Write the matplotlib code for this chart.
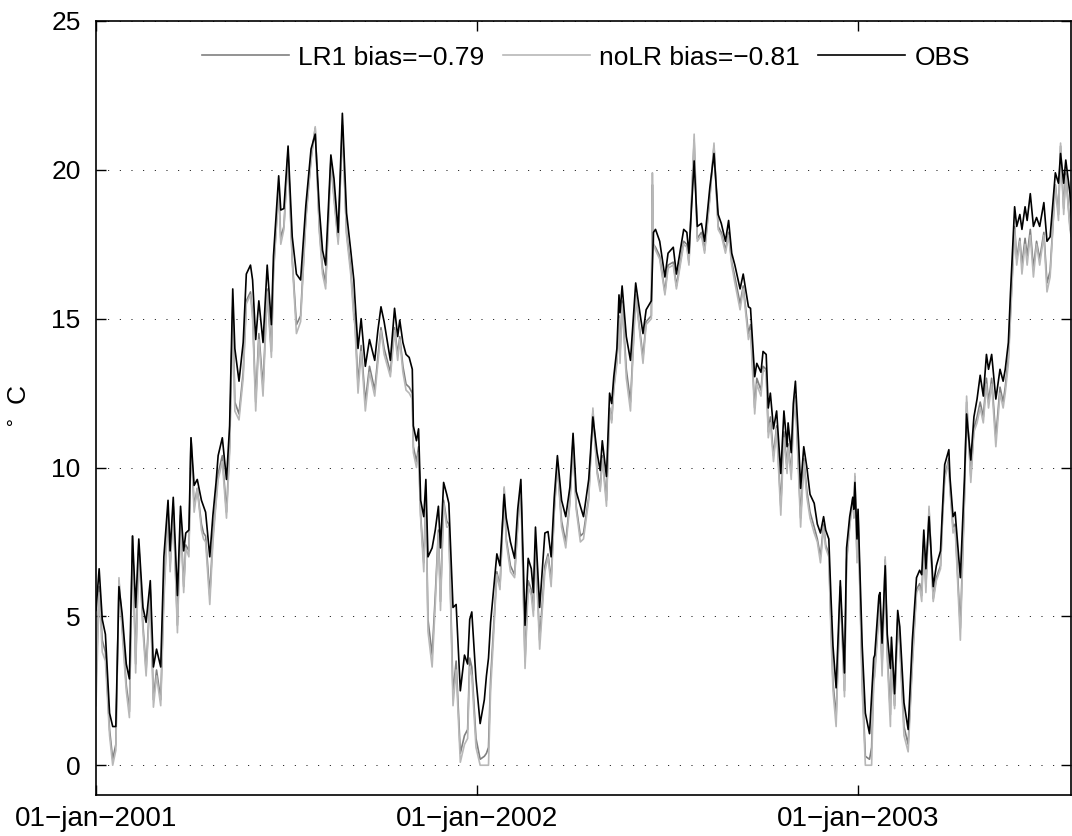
import numpy as np
import matplotlib
matplotlib.use("Agg")
import matplotlib.pyplot as plt

# days since 01-jan-2001 at which the curves were read
days = [0, 3, 6, 9, 13, 16, 19, 22, 25, 29,
        32, 35, 38, 41, 45, 48, 52, 55, 58, 62,
        65, 69, 71, 74, 78, 81, 84, 86, 89, 91,
        94, 97, 101, 103, 105, 109, 112, 115, 117, 121,
        125, 128, 131, 133, 137, 141, 144, 148, 150, 153,
        156, 160, 164, 168, 170, 175, 177, 180, 184, 188,
        192, 196, 201, 206, 210, 214, 217, 220, 225, 228,
        232, 236, 240, 244, 247, 248, 251, 254, 258, 262,
        267, 270, 273, 276, 282, 286, 289, 291, 294, 297,
        300, 303, 304, 307, 309, 311, 314, 316, 318, 322,
        325, 328, 330, 333, 336, 338, 342, 345, 349, 353,
        356, 358, 360, 364, 368, 372, 374, 376, 378, 384,
        387, 391, 393, 397, 401, 404, 407, 411, 414, 417,
        419, 421, 425, 430, 433, 436, 439, 442, 446, 450,
        454, 457, 460, 464, 467, 472, 476, 480, 483, 485,
        489, 492, 494, 496, 499, 501, 502, 504, 508, 512,
        517, 521, 524, 527, 532, 533, 534, 536, 540, 545,
        548, 553, 556, 563, 566, 568, 573, 576, 580, 583,
        588, 592, 596, 599, 603, 606, 609, 612, 617, 620,
        625, 627, 631, 633, 637, 639, 642, 644, 646, 649,
        652, 656, 659, 662, 663, 666, 668, 670, 673, 675,
        678, 681, 684, 688, 691, 694, 697, 699, 702, 704,
        706, 709, 713, 717, 719, 722, 725, 726, 727, 729,
        730, 734, 737, 741, 743, 745, 746, 750, 751, 753,
        756, 758, 761, 762, 765, 768, 770, 774, 778, 782,
        786, 789, 791, 793, 795, 798, 802, 805, 809, 811,
        813, 817, 818, 821, 823, 828, 832, 834, 838, 841,
        844, 847, 850, 853, 855, 858, 862, 866, 869, 871,
        874, 876, 880, 882, 885, 887, 890, 892, 895, 898,
        901, 904, 908, 911, 914, 919, 922, 924, 927, 929,
        933, 935]

obs = [5.2, 6.6, 4.9, 4.4, 1.75, 1.3, 1.3, 6.0, 5.1, 3.4,
       2.9, 7.7, 5.3, 7.6, 5.3, 4.8, 6.2, 3.3, 3.9, 3.3,
       7.0, 8.9, 7.2, 9.0, 5.7, 8.7, 7.2, 7.8, 7.9, 11.0,
       9.4, 9.6, 8.9, 8.7, 8.5, 7.0, 8.4, 9.5, 10.4, 11.0,
       9.6, 11.4, 16.0, 14.0, 12.9, 14.2, 16.5, 16.8, 16.3, 14.3,
       15.6, 14.2, 16.8, 14.8, 17.1, 19.8, 18.65, 18.7, 20.8, 17.75,
       16.5, 16.3, 18.8, 20.7, 21.2, 18.65, 17.3, 16.8, 20.5, 19.7,
       17.9, 21.9, 18.55, 17.3, 16.3, 15.7, 14.0, 15.0, 13.4, 14.3,
       13.6, 14.6, 15.4, 14.9, 13.6, 15.35, 14.4, 14.95, 14.2, 13.8,
       13.7, 13.3, 11.4, 10.9, 11.3, 8.9, 8.35, 9.6, 7.0, 7.3,
       7.9, 8.7, 7.3, 9.5, 9.1, 8.8, 5.3, 5.4, 2.5, 3.7,
       3.4, 4.9, 5.15, 2.9, 1.4, 2.2, 3.0, 3.6, 4.8, 7.1,
       6.7, 9.1, 8.3, 7.5, 6.95, 8.6, 9.6, 4.7, 6.95, 6.6,
       5.8, 8.0, 5.3, 7.8, 7.85, 7.0, 9.0, 10.4, 8.9, 8.35,
       9.35, 11.15, 9.2, 8.7, 8.35, 9.6, 11.7, 10.5, 9.9, 10.9,
       9.7, 12.5, 12.15, 13.05, 14.0, 15.8, 15.2, 16.1, 14.4, 13.6,
       16.2, 15.2, 14.5, 15.3, 15.6, 16.8, 17.9, 18.0, 17.6, 16.4,
       17.2, 17.4, 16.5, 18.0, 17.9, 17.2, 20.3, 18.1, 18.2, 17.6,
       19.4, 20.55, 18.5, 18.2, 17.6, 18.3, 17.2, 16.8, 16.0, 16.5,
       15.4, 15.35, 13.05, 13.5, 13.2, 13.9, 13.8, 12.0, 12.5, 11.3,
       11.9, 9.8, 11.9, 10.7, 11.5, 10.5, 12.15, 12.9, 10.9, 9.3,
       10.7, 10.0, 9.1, 8.8, 8.1, 7.8, 8.35, 7.9, 7.6, 5.7,
       4.0, 2.6, 6.2, 3.1, 7.3, 8.35, 9.0, 8.6, 9.5, 7.6,
       8.6, 4.0, 1.75, 1.06, 2.3, 3.6, 3.7, 5.7, 5.8, 4.1,
       6.7, 4.4, 3.25, 4.3, 2.4, 5.2, 4.65, 2.1, 1.2, 4.2,
       6.3, 6.55, 6.4, 7.9, 6.6, 8.35, 6.0, 6.7, 7.2, 8.7,
       10.1, 10.6, 9.7, 8.35, 8.5, 6.3, 9.7, 11.8, 10.25, 11.7,
       12.3, 13.1, 12.4, 13.8, 13.3, 13.8, 12.3, 13.3, 12.9, 13.3,
       14.2, 15.85, 18.76, 18.1, 18.5, 18.0, 18.76, 18.3, 19.2, 18.1,
       18.4, 18.1, 18.9, 17.6, 17.75, 19.9, 19.55, 20.55, 19.55, 20.33,
       19.2, 18.1]

nolr = [2.0, 5.8, 3.8, 3.5, 1.0, 0.0, 0.5, 6.3, 4.5, 2.5,
        1.6, 7.7, 3.1, 7.4, 4.5, 3.0, 5.8, 1.95, 3.0, 2.0,
        5.5, 8.5, 6.5, 8.7, 4.45, 8.3, 5.8, 7.3, 7.0, 11.0,
        8.5, 9.3, 7.9, 7.6, 7.5, 5.4, 7.5, 8.8, 9.6, 10.2,
        8.3, 10.5, 15.3, 11.9, 11.6, 13.0, 15.5, 15.8, 15.0, 11.9,
        14.3, 12.4, 15.9, 13.7, 16.5, 19.3, 17.5, 18.0, 20.6, 16.9,
        14.5, 14.9, 18.3, 20.3, 21.45, 17.9, 16.5, 16.0, 20.2, 19.0,
        17.5, 21.5, 17.8, 16.5, 15.0, 14.8, 12.5, 13.9, 11.9, 13.2,
        12.4, 13.5, 14.6, 13.8, 13.05, 14.6, 13.6, 14.3, 13.2, 12.6,
        12.5, 12.3, 10.5, 10.0, 10.5, 8.3, 6.5, 9.0, 4.5, 3.3,
        5.4, 7.8, 5.2, 8.8, 8.0, 8.0, 2.0, 3.2, 0.1, 0.7,
        0.9, 3.3, 3.0, 0.6, 0.0, 0.0, 0.0, 0.0, 2.5, 6.4,
        5.9, 9.35, 7.5, 6.5, 6.3, 8.0, 9.4, 3.25, 6.0, 5.7,
        5.0, 7.3, 3.9, 6.5, 7.0, 6.0, 8.5, 10.1, 8.0, 7.3,
        8.8, 10.9, 8.6, 7.5, 7.6, 8.9, 12.0, 9.8, 9.2, 10.3,
        8.7, 12.0, 11.5, 12.6, 13.5, 15.0, 13.5, 15.5, 13.0, 11.9,
        15.8, 14.5, 13.5, 14.8, 15.0, 19.9, 17.5, 17.3, 17.0, 15.8,
        16.7, 16.8, 16.0, 17.5, 17.4, 16.8, 21.2, 17.6, 17.8, 17.2,
        19.0, 20.9, 18.0, 17.8, 17.2, 17.8, 16.8, 16.2, 15.3, 16.0,
        14.3, 14.6, 11.8, 12.8, 12.4, 13.3, 13.2, 11.0, 11.5, 10.2,
        11.3, 8.4, 11.0, 9.8, 10.7, 9.6, 11.6, 12.3, 9.8, 8.0,
        10.2, 9.0, 8.3, 7.8, 7.5, 6.8, 8.0, 7.3, 7.0, 4.5,
        2.5, 1.3, 6.0, 2.3, 6.8, 8.0, 9.0, 8.3, 9.8, 6.8,
        8.5, 2.5, 0.0, 0.0, 0.0, 2.8, 3.0, 5.0, 5.4, 3.0,
        7.0, 3.6, 1.3, 3.5, 1.9, 4.8, 4.0, 1.0, 0.45, 3.3,
        5.8, 6.0, 5.5, 7.5, 5.8, 8.7, 5.5, 6.2, 6.6, 8.3,
        9.6, 10.2, 9.3, 7.8, 8.0, 4.2, 9.0, 12.4, 9.5, 11.2,
        11.5, 12.0, 11.5, 12.8, 12.0, 12.8, 10.7, 12.5, 12.0, 12.5,
        13.5, 15.0, 18.0, 16.8, 17.6, 16.5, 17.5, 16.8, 17.8, 16.4,
        17.5, 16.8, 17.8, 15.9, 16.4, 19.5, 18.3, 20.9, 18.5, 19.8,
        18.0, 17.6]

lr1 = [2.8, 6.0, 4.2, 3.8, 1.2, 0.2, 0.7, 6.2, 4.7, 2.7,
       1.8, 7.7, 3.4, 7.4, 4.7, 3.2, 5.9, 2.2, 3.2, 2.2,
       5.8, 8.6, 6.7, 8.7, 4.7, 8.4, 6.0, 7.4, 7.2, 11.0,
       8.7, 9.3, 8.1, 7.8, 7.7, 5.7, 7.7, 8.9, 9.8, 10.4,
       8.5, 10.7, 15.4, 12.2, 11.8, 13.2, 15.6, 15.9, 15.2, 12.2,
       14.5, 12.7, 16.0, 13.9, 16.6, 19.4, 17.7, 18.1, 20.6, 17.0,
       14.8, 15.1, 18.4, 20.4, 21.4, 18.0, 16.7, 16.2, 20.3, 19.1,
       17.6, 21.5, 17.9, 16.7, 15.2, 15.0, 12.8, 14.1, 12.2, 13.4,
       12.6, 13.7, 14.7, 14.0, 13.2, 14.7, 13.8, 14.4, 13.4, 12.8,
       12.7, 12.5, 10.7, 10.2, 10.7, 8.4, 6.8, 9.1, 4.9, 3.7,
       5.7, 7.9, 5.5, 8.9, 8.2, 8.1, 2.4, 3.5, 0.4, 1.0,
       1.2, 3.6, 3.3, 0.9, 0.2, 0.3, 0.4, 0.6, 2.9, 6.5,
       6.0, 9.3, 7.6, 6.7, 6.4, 8.1, 9.4, 3.5, 6.2, 5.9,
       5.2, 7.4, 4.2, 6.7, 7.1, 6.2, 8.6, 10.1, 8.2, 7.5,
       8.9, 10.9, 8.7, 7.7, 7.8, 9.0, 11.9, 9.9, 9.3, 10.4,
       8.9, 12.0, 11.6, 12.7, 13.6, 15.1, 13.8, 15.6, 13.3, 12.2,
       15.8, 14.6, 13.7, 14.9, 15.1, 19.5, 17.5, 17.4, 17.1, 15.9,
       16.8, 16.9, 16.1, 17.6, 17.5, 16.9, 21.0, 17.7, 17.9, 17.3,
       19.1, 20.8, 18.1, 17.9, 17.3, 17.9, 16.9, 16.4, 15.5, 16.1,
       14.5, 14.8, 12.0, 13.0, 12.6, 13.4, 13.3, 11.2, 11.7, 10.4,
       11.4, 8.7, 11.2, 10.0, 10.8, 9.8, 11.7, 12.4, 10.0, 8.3,
       10.3, 9.2, 8.5, 8.0, 7.6, 7.0, 8.1, 7.4, 7.1, 4.8,
       2.8, 1.6, 6.0, 2.5, 6.9, 8.1, 9.0, 8.4, 9.7, 7.0,
       8.5, 2.8, 0.3, 0.2, 0.6, 3.0, 3.2, 5.2, 5.5, 3.3,
       6.9, 3.8, 1.7, 3.7, 2.0, 4.9, 4.1, 1.3, 0.7, 3.5,
       5.9, 6.1, 5.7, 7.6, 6.0, 8.6, 5.6, 6.3, 6.7, 8.4,
       9.7, 10.3, 9.4, 8.0, 8.1, 4.6, 9.1, 12.2, 9.7, 11.3,
       11.7, 12.2, 11.7, 13.0, 12.2, 13.0, 11.0, 12.7, 12.2, 12.7,
       13.7, 15.2, 18.1, 17.0, 17.7, 16.8, 17.7, 17.1, 18.0, 16.7,
       17.6, 17.0, 17.9, 16.2, 16.6, 19.5, 18.5, 20.8, 18.7, 19.9,
       18.1, 17.7]

labels = ["LR1 bias=\u22120.79", "noLR bias=\u22120.81", "OBS"]
tick_dates = ["2001-01-01", "2002-01-01", "2003-01-01"]
tick_labels = ["01\u2212jan\u22122001", "01\u2212jan\u22122002", "01\u2212jan\u22122003"]

assert len(days) == len(obs) == len(nolr) == len(lr1)

plt.rcParams['font.family'] = ['Liberation Sans', 'DejaVu Sans']

start = np.datetime64("2001-01-01")
dates = start + np.array(days, dtype="timedelta64[D]")

fig = plt.figure(figsize=(10.72, 8.36), dpi=100)
ax = fig.add_axes([96 / 1072, 41 / 836, 975 / 1072, 774 / 836])

ax.plot(dates, lr1, color="0.5", lw=1.2, label=labels[0])
ax.plot(dates, nolr, color="0.72", lw=1.2, label=labels[1])
ax.plot(dates, obs, color="black", lw=1.2, label=labels[2])

ax.set_xlim(start, start + np.timedelta64(934, "D"))
ax.set_ylim(-1, 25)
ax.set_yticks([0, 5, 10, 15, 20, 25])
ax.set_xticks([np.datetime64(d) for d in tick_dates])
ax.set_xticklabels(tick_labels)

ax.yaxis.grid(True, color="black", linestyle=(0, (1, 11)), lw=0.7)
ax.tick_params(direction="in", length=7, width=1, top=True, right=True,
               labelsize=19)
ax.tick_params(axis="y", pad=11)
ax.tick_params(axis="x", pad=8, labelsize=20)
for s in ax.spines.values():
    s.set_linewidth(1.2)

ax.set_ylabel(r"$^\circ$ C", fontsize=19, labelpad=14)

ax.legend(loc="center", bbox_to_anchor=(586 / 1072, 1 - 57.7 / 836),
          bbox_transform=fig.transFigure, ncol=3, frameon=False,
          fontsize=19, handlelength=3.3, handletextpad=0.35,
          columnspacing=0.7)

fig.savefig("out.png", dpi=100)
